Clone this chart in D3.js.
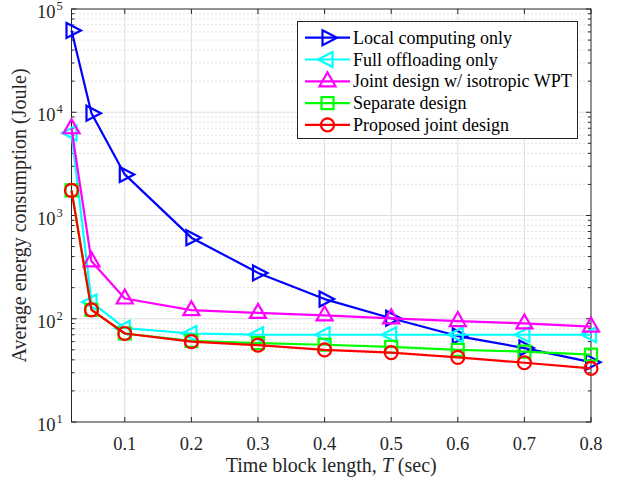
<!DOCTYPE html>
<html>
<head>
<meta charset="utf-8">
<script src="https://cdn.jsdelivr.net/npm/d3@7/dist/d3.min.js"></script>
<style>
  html, body { margin: 0; padding: 0; background: #fff; }
  svg { display: block; }
  text { font-family: "Liberation Serif", "Times New Roman", serif; fill: #262626; }
</style>
</head>
<body>
<svg id="chart" width="621" height="484"></svg>
<script>
// ---- data ----
const T = [0.02, 0.05, 0.1, 0.2, 0.3, 0.4, 0.5, 0.6, 0.7, 0.8];
const localOnly   = [62000, 9800, 2500, 610, 278, 155, 101, 68, 52, 38];
const fullOffload = [6300, 145, 81, 72, 70, 70, 70, 70, 70, 70];
const isotropic   = [7000, 360, 157, 121, 114, 108, 101, 95, 90, 84];
const separate    = [1750, 122, 72, 61, 58, 56, 53.5, 50, 48, 45];
const proposed    = [1750, 122, 72, 60, 55.5, 50, 47, 42.3, 37.5, 33];
const seriesNames = ["Local computing only", "Full offloading only", "Joint design w/ isotropic WPT", "Separate design", "Proposed joint design"];
const xTicks = [0.1, 0.2, 0.3, 0.4, 0.5, 0.6, 0.7, 0.8];
const yDecades = [1, 2, 3, 4, 5];

const series = [
  { name: seriesNames[0], values: localOnly,   color: "#0000ff", marker: "right" },
  { name: seriesNames[1], values: fullOffload, color: "#00ffff", marker: "left" },
  { name: seriesNames[2], values: isotropic,   color: "#ff00ff", marker: "up" },
  { name: seriesNames[3], values: separate,    color: "#00ff00", marker: "square" },
  { name: seriesNames[4], values: proposed,    color: "#ff0000", marker: "circle" }
];

const L = 71.5, R = 591, TOP = 9, B = 422;
const svg = d3.select("#chart");
const x = d3.scaleLinear().domain([0.02, 0.8]).range([L, R]);
const y = d3.scaleLog().domain([10, 1e5]).range([B, TOP]);

// grid
const g = svg.append("g");
const minorVals = [];
for (let d = 1; d < 5; d++) for (let k = 2; k <= 9; k++) minorVals.push(k * Math.pow(10, d));
g.selectAll(".ming").data(minorVals).enter().append("line")
  .attr("x1", L).attr("x2", R).attr("y1", d => y(d)).attr("y2", d => y(d))
  .attr("stroke", "#c4c4c4").attr("stroke-width", 1).attr("stroke-dasharray", "1,3");
g.selectAll(".majy").data(yDecades.slice(1, 4)).enter().append("line")
  .attr("x1", L).attr("x2", R).attr("y1", d => y(Math.pow(10, d))).attr("y2", d => y(Math.pow(10, d)))
  .attr("stroke", "#dedede").attr("stroke-width", 1);
g.selectAll(".majx").data(xTicks.slice(0, -1)).enter().append("line")
  .attr("y1", TOP).attr("y2", B).attr("x1", d => x(d)).attr("x2", d => x(d))
  .attr("stroke", "#dedede").attr("stroke-width", 1);

// ticks (inside)
const tk = svg.append("g").attr("stroke", "#262626").attr("stroke-width", 1);
xTicks.forEach(v => {
  tk.append("line").attr("x1", x(v)).attr("x2", x(v)).attr("y1", B).attr("y2", B - 5);
  tk.append("line").attr("x1", x(v)).attr("x2", x(v)).attr("y1", TOP).attr("y2", TOP + 5);
});
yDecades.forEach(d => {
  const yy = y(Math.pow(10, d));
  tk.append("line").attr("x1", L).attr("x2", L + 5).attr("y1", yy).attr("y2", yy);
  tk.append("line").attr("x1", R).attr("x2", R - 5).attr("y1", yy).attr("y2", yy);
});
minorVals.forEach(v => {
  const yy = y(v);
  tk.append("line").attr("x1", L).attr("x2", L + 3).attr("y1", yy).attr("y2", yy);
  tk.append("line").attr("x1", R).attr("x2", R - 3).attr("y1", yy).attr("y2", yy);
});

// frame
svg.append("rect").attr("x", L).attr("y", TOP).attr("width", R - L).attr("height", B - TOP)
  .attr("fill", "none").attr("stroke", "#262626").attr("stroke-width", 1);

// tick labels
svg.selectAll(".xl").data(xTicks).enter().append("text")
  .attr("x", d => x(d)).attr("y", 450).attr("text-anchor", "middle")
  .attr("font-size", 18.5).text(d => d.toFixed(1));
yDecades.forEach(d => {
  const yy = y(Math.pow(10, d));
  svg.append("text").attr("x", 55.5).attr("y", yy + 9)
    .attr("text-anchor", "end").attr("font-size", 18.5).text("10");
  svg.append("text").attr("x", 56.5).attr("y", yy + 1)
    .attr("font-size", 12.5).text(String(d));
});

// axis labels
const xl = svg.append("text").attr("x", (L + R) / 2).attr("y", 472).attr("text-anchor", "middle").attr("font-size", 20);
xl.append("tspan").text("Time block length, ");
xl.append("tspan").attr("font-style", "italic").text("T");
xl.append("tspan").text(" (sec)");
svg.append("text").attr("transform", `translate(26,${(TOP + B) / 2}) rotate(-90)`)
  .attr("text-anchor", "middle").attr("font-size", 20).text("Average energy consumption (Joule)");

// marker generator
function markerPath(type) {
  switch (type) {
    case "right": return "M-5,-7.5L9.5,0L-5,7.5Z";
    case "left": return "M5,-7.5L-9.5,0L5,7.5Z";
    case "up": return "M0,-9L8,5L-8,5Z";
    case "square": return "M-6,-6L6,-6L6,6L-6,6Z";
    case "circle": return "M6.5,0A6.5,6.5 0 1,1 -6.5,0A6.5,6.5 0 1,1 6.5,0Z";
  }
}

const line = d3.line().x(d => x(d[0])).y(d => y(d[1]));
const plot = svg.append("g");
series.forEach(s => {
  const pts = T.map((t, i) => [t, s.values[i]]);
  plot.append("path").datum(pts).attr("d", line)
    .attr("fill", "none").attr("stroke", s.color).attr("stroke-width", 2.2).attr("stroke-linejoin", "round");
  plot.selectAll(null).data(pts).enter().append("path")
    .attr("transform", d => `translate(${x(d[0])},${y(d[1])})`)
    .attr("d", markerPath(s.marker))
    .attr("fill", "none").attr("stroke", s.color).attr("stroke-width", 2.2);
});

// legend
const lg = svg.append("g");
lg.append("rect").attr("x", 297.5).attr("y", 21.5).attr("width", 280).attr("height", 117)
  .attr("fill", "#fff").attr("stroke", "#262626").attr("stroke-width", 1);
series.forEach((s, i) => {
  const yy = 37.7 + i * 21.8;
  lg.append("line").attr("x1", 305).attr("x2", 350).attr("y1", yy).attr("y2", yy)
    .attr("stroke", s.color).attr("stroke-width", 2.2);
  lg.append("path").attr("transform", `translate(327.5,${yy})`).attr("d", markerPath(s.marker))
    .attr("fill", "none").attr("stroke", s.color).attr("stroke-width", 2.2);
  lg.append("text").attr("x", 353).attr("y", yy + 6).attr("font-size", 18).style("fill", "#000").text(s.name);
});
</script>
</body>
</html>
